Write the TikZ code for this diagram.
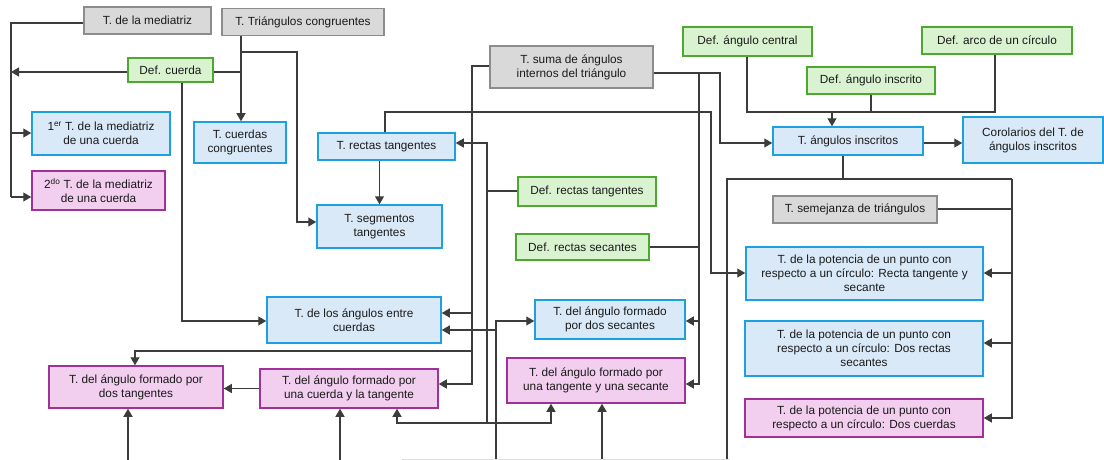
\documentclass[tikz,border=0pt]{standalone}
\usepackage{fontspec}
\setmainfont{Liberation Sans}
\usetikzlibrary{arrows.meta}
\definecolor{grisfill}{HTML}{D9D9D9}
\definecolor{grisline}{HTML}{8C8C8C}
\definecolor{deffill}{HTML}{D9F2D0}
\definecolor{defline}{HTML}{4EA72E}
\definecolor{teofill}{HTML}{DAE9F7}
\definecolor{teoline}{HTML}{1BA1E2}
\definecolor{rosfill}{HTML}{F2CEEF}
\definecolor{rosline}{HTML}{A0309A}
\definecolor{linkcol}{HTML}{3C3C3C}
\definecolor{textcol}{HTML}{1A1A1A}
\begin{document}
\begin{tikzpicture}[x=1pt,y=-1pt,
  caja/.style={draw, line width=1.5pt, align=center, inner sep=0pt,
    text=textcol, font=\fontsize{11.8}{14}\selectfont},
  grisbox/.style={caja, fill=grisfill, draw=grisline},
  defbox/.style={caja, fill=deffill, draw=defline},
  teobox/.style={caja, fill=teofill, draw=teoline},
  rosbox/.style={caja, fill=rosfill, draw=rosline},
  enlace/.style={draw=linkcol, line width=1.2pt},
  flecha/.style={enlace, -{Triangle[length=8pt,width=9pt]}},
]
\useasboundingbox (0,0) rectangle (1104,460);

% ---- boxes ----
\node[grisbox, minimum width=127, minimum height=27] (med) at (147.5,20.5) {T. de la mediatriz};
\node[grisbox, minimum width=162, minimum height=27] (tri) at (303,22) {T. Triángulos congruentes};
\node[defbox, minimum width=85, minimum height=24] (defc) at (170.5,70) {Def. cuerda};
\node[teobox, minimum width=138, minimum height=43] (med1) at (101,133.5) {1\textsuperscript{er} T. de la mediatriz\\de una cuerda};
\node[rosbox, minimum width=133, minimum height=39] (med2) at (98.5,190.5) {2\textsuperscript{do} T. de la mediatriz\\de una cuerda};
\node[teobox, minimum width=92, minimum height=41] (cc) at (240,142.5) {T. cuerdas\\congruentes};
\node[teobox, minimum width=137, minimum height=27] (rt) at (386.5,146.5) {T. rectas tangentes};
\node[teobox, minimum width=125, minimum height=43] (st) at (379.5,226.5) {T. segmentos\\tangentes};
\node[grisbox, minimum width=163, minimum height=42] (suma) at (571.5,67) {T. suma de ángulos\\internos del triángulo};
\node[defbox, minimum width=138, minimum height=29] (drt) at (587,191.5) {Def. rectas tangentes};
\node[defbox, minimum width=133, minimum height=26] (drs) at (582.5,247) {Def. rectas secantes};
\node[defbox, minimum width=129, minimum height=29] (dac) at (747.5,41.5) {Def. ángulo central};
\node[defbox, minimum width=128, minimum height=27] (dai) at (871,80.5) {Def. ángulo inscrito};
\node[defbox, minimum width=150, minimum height=27] (darc) at (997,40.5) {Def. arco de un círculo};
\node[teobox, minimum width=150, minimum height=28] (ai) at (848,141) {T. ángulos inscritos};
\node[teobox, minimum width=140, minimum height=46] (cor) at (1033,140) {Corolarios del T. de\\ángulos inscritos};
\node[grisbox, minimum width=164, minimum height=27] (sem) at (855,209.5) {T. semejanza de triángulos};
\node[teobox, minimum width=237, minimum height=53] (p1) at (864.5,273.5) {T. de la potencia de un punto con\\respecto a un círculo: Recta tangente y\\secante};
\node[teobox, minimum width=238, minimum height=55] (p2) at (864,348.5) {T. de la potencia de un punto con\\respecto a un círculo: Dos rectas\\secantes};
\node[rosbox, minimum width=238, minimum height=38] (p3) at (864,418) {T. de la potencia de un punto con\\respecto a un círculo: Dos cuerdas};
\node[teobox, minimum width=174, minimum height=46] (ec) at (354,320) {T. de los ángulos entre\\cuerdas};
\node[teobox, minimum width=150, minimum height=39] (ds) at (610,319.5) {T. del ángulo formado\\por dos secantes};
\node[rosbox, minimum width=178, minimum height=45] (ts) at (596,380.5) {T. del ángulo formado por\\una tangente y una secante};
\node[rosbox, minimum width=174, minimum height=42] (dt) at (136,387) {T. del ángulo formado por\\dos tangentes};
\node[rosbox, minimum width=178, minimum height=39] (ct) at (349,388.5) {T. del ángulo formado por\\una cuerda y la tangente};

% ---- junction points ----
\coordinate (m1) at (11,23);
\coordinate (m2) at (11,197);
\coordinate (m3) at (11,133);
\coordinate (c1) at (11,72);
\coordinate (c2) at (241,72);
\coordinate (c3) at (182,321);
\coordinate (t1) at (241,52);
\coordinate (t2) at (297,52);
\coordinate (t3) at (297,222);
\coordinate (r1) at (385,112);
\coordinate (r2) at (711,112);
\coordinate (r3) at (711,273);
\coordinate (s1) at (472,66);
\coordinate (s2) at (472,384);
\coordinate (s3) at (472,313);
\coordinate (s4) at (472,351);
\coordinate (s5) at (135,351);
\coordinate (d1) at (487,191);
\coordinate (d2) at (487,143);
\coordinate (d3) at (487,423);
\coordinate (d4) at (397,423);
\coordinate (d5) at (551,423);
\coordinate (e0) at (496,460);
\coordinate (e1) at (496,321);
\coordinate (e2) at (496,330);
\coordinate (u1) at (720,73);
\coordinate (u2) at (720,143);
\coordinate (v1) at (699,73);
\coordinate (v2) at (699,384);
\coordinate (v3) at (699,321);
\coordinate (v4) at (699,247);
\coordinate (a1) at (747,112);
\coordinate (a2) at (995,112);
\coordinate (a3) at (832,112);
\coordinate (w1) at (843,179);
\coordinate (w2) at (727,179);
\coordinate (w3) at (1012,179);
\coordinate (w4) at (727,460);
\coordinate (w5) at (1012,418);
\coordinate (w6) at (1012,273);
\coordinate (w7) at (1012,343);
\coordinate (w8) at (1012,209);
\coordinate (b1) at (128,460);
\coordinate (b2) at (340,460);
\coordinate (b3) at (602,460);
\coordinate (f1) at (402,459);
\coordinate (f2) at (730,459);

% ---- connectors ----
% mediatriz
\draw[enlace] (med.west |- m1) -- (m1) -- (m2);
\draw[flecha] (m2) -- (med2.west |- m2);
\draw[flecha] (m3) -- (med1.west |- m3);
% cuerda
\draw[flecha] (defc.west |- c1) -- (c1);
\draw[enlace] (defc.east |- c2) -- (c2);
\draw[flecha] (defc.south -| c3) -- (c3) -- (ec.west |- c3);
% triangulos congruentes
\draw[flecha] (tri.south -| c2) -- (cc.north -| c2);
\draw[flecha] (t1) -- (t2) -- (t3) -- (st.west |- t3);
% rectas tangentes
\draw[flecha] (rt.south -| st.north) -- (st.north);
\draw[flecha] (rt.north -| r1) -- (r1) -- (r2) -- (r3) -- (p1.west |- r3);
% suma de angulos, lado izquierdo
\draw[flecha] (suma.west |- s1) -- (s1) -- (s2) -- (ct.east |- s2);
\draw[flecha] (s3) -- (ec.east |- s3);
\draw[flecha] (s4) -- (s5) -- (dt.north -| s5);
% def. rectas tangentes
\draw[enlace] (drt.west |- d1) -- (d1);
\draw[flecha] (d3) -- (d2) -- (rt.east |- d2);
\draw[flecha] (d3) -- (d4) -- (ct.south -| d4);
\draw[flecha] (d3) -- (d5) -- (ts.south -| d5);
% linea desde abajo
\draw[flecha] (e0) -- (e1) -- (ds.west |- e1);
\draw[flecha] (e2) -- (ec.east |- e2);
% suma de angulos, lado derecho
\draw[flecha] (suma.east |- u1) -- (u1) -- (u2) -- (ai.west |- u2);
\draw[flecha] (v1) -- (v2) -- (ts.east |- v2);
\draw[flecha] (v3) -- (ds.east |- v3);
\draw[enlace] (drs.east |- v4) -- (v4);
% definiciones de angulos
\draw[enlace] (dac.south -| a1) -- (a1) -- (a2) -- (darc.south -| a2);
\draw[enlace] (dai.south) -- (dai.south |- a1);
\draw[flecha] (a3) -- (ai.north -| a3);
\draw[flecha] (ai.east |- u2) -- (cor.west |- u2);
% potencia de un punto
\draw[enlace] (ai.south -| w1) -- (w1);
\draw[enlace] (w4) -- (w2) -- (w3);
\draw[flecha] (w3) -- (w5) -- (p3.east |- w5);
\draw[flecha] (w6) -- (p1.east |- w6);
\draw[flecha] (w7) -- (p2.east |- w7);
\draw[enlace] (sem.east |- w8) -- (w8);
% angulos con tangentes
\draw[flecha] (ct.west) -- (dt.east |- ct.west);
\draw[flecha] (b1) -- (dt.south -| b1);
\draw[flecha] (b2) -- (ct.south -| b2);
\draw[flecha] (b3) -- (ts.south -| b3);
\draw[gray!25, line width=1pt] (f1) -- (f2);
\end{tikzpicture}
\end{document}
